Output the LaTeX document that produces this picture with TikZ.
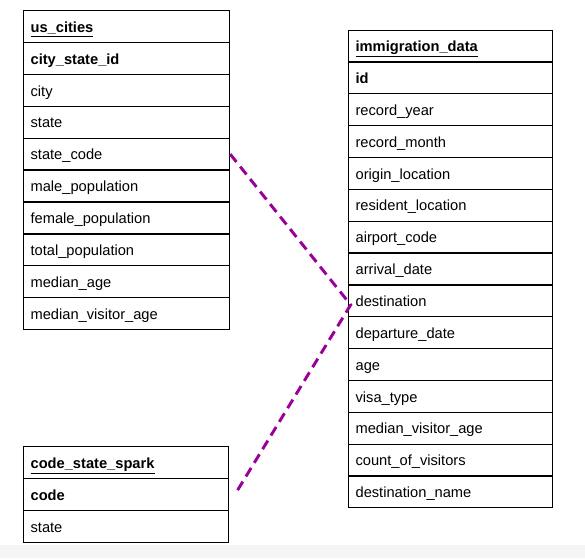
\documentclass[tikz,border=0pt]{standalone}
\usepackage{fontspec}
\setmainfont{Liberation Sans}
\usetikzlibrary{positioning}

\definecolor{linkpurple}{RGB}{153,0,153}

\tikzset{
    cell/.style={draw=black, line width=0.9pt, rectangle, anchor=north west,
        minimum height=23.9pt, inner sep=0pt, text height=9.5pt, text depth=1pt,
        font=\fontsize{11}{13}\selectfont, align=left},
    fklink/.style={draw=linkpurple, line width=2.2pt, dash pattern=on 7.5pt off 4.5pt}
}

\begin{document}
\begin{tikzpicture}[x=0.75pt, y=-0.75pt]
            \useasboundingbox (0, 0) rectangle (585, 558);
            \fill[black!4] (0, 545) rectangle (585, 558);

            % us_cities
            \foreach \t [count=\i from 0] in {\textbf{\underline{us\_cities}}, \textbf{city\_state\_id}, city, state, state\_code, male\_population, female\_population, total\_population, median\_age, median\_visitor\_age}
                \node[cell, minimum width=154.5pt, text width=144pt] (usc\i) at (23, 10 + 31.9*\i) {\t};

            % immigration_data
            \foreach \t [count=\i from 0] in {\textbf{\underline{immigration\_data}}, \textbf{id}, record\_year, record\_month, origin\_location, resident\_location, airport\_code, arrival\_date, destination, departure\_date, age, visa\_type, median\_visitor\_age, count\_of\_visitors, destination\_name}
                \node[cell, minimum width=153pt, text width=142.5pt] (imm\i) at (348, 29.5 + 31.85*\i) {\t};

            % code_state_spark
            \foreach \t [count=\i from 0] in {\textbf{\underline{code\_state\_spark}}, \textbf{code}, state}
                \node[cell, minimum width=153.75pt, text width=143.25pt] (css\i) at (23, 446 + 32*\i) {\t};

            \draw[fklink] (usc4.east) -- ([xshift=2pt, yshift=-3pt]imm8.west) -- ([xshift=5.5pt, yshift=2pt]css1.east);
        \end{tikzpicture}
\end{document}
